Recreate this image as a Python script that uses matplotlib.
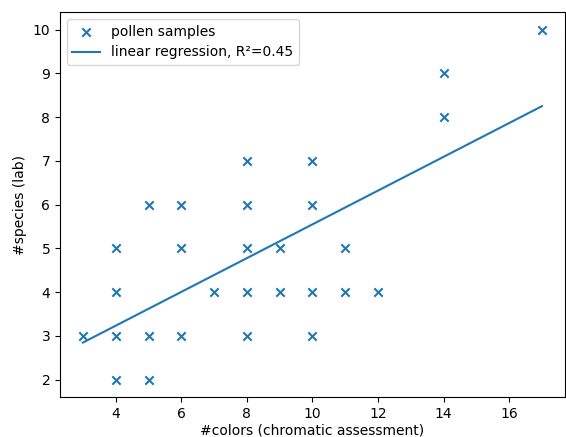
import matplotlib
matplotlib.use("Agg")
import matplotlib.pyplot as plt
import numpy as np

# pollen samples: colours counted by chromatic assessment vs species found in lab
colors = [3, 4, 4, 4, 4, 5, 5, 5, 6, 6, 6, 7, 8, 8, 8, 8, 8, 9, 9,
          10, 10, 10, 10, 11, 11, 12, 14, 14, 17]
species = [3, 5, 4, 3, 2, 6, 3, 2, 6, 5, 3, 4, 7, 6, 5, 4, 3, 5, 4,
           7, 6, 4, 3, 5, 4, 4, 9, 8, 10]

x = np.array(colors, dtype=float)
y = np.array(species, dtype=float)

# least squares fit
slope, intercept = np.polyfit(x, y, 1)
r2 = np.corrcoef(x, y)[0, 1] ** 2
xs = np.array([x.min(), x.max()])

fig = plt.figure(figsize=(5.66, 4.37), dpi=100)
ax = fig.add_axes([0.106, 0.0915, 0.892, 0.881])

ax.scatter(x, y, marker="x", color="tab:blue", label="pollen samples")
ax.plot(xs, slope * xs + intercept, color="tab:blue",
        label=f"linear regression, R\u00b2={r2:.2f}")

ax.set_xlabel("#colors (chromatic assessment)", labelpad=2)
ax.set_ylabel("#species (lab)")
ax.legend(loc="upper left")

fig.savefig("out.png", dpi=100)
